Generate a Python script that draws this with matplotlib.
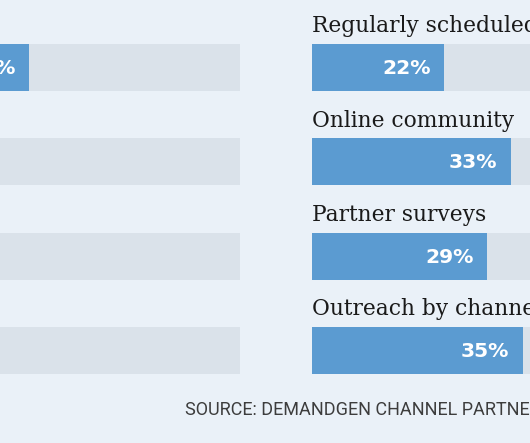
import matplotlib
matplotlib.use("Agg")
import matplotlib.pyplot as plt

# Data
left_values = [65, 45, 40, 35]          # left panel (labels off-canvas)
left_labels = ["65%", "", "", ""]       # only the first value label reaches the canvas
right_categories = ["Regularly scheduled meetings", "Online community",
                    "Partner surveys", "Outreach by channel managers"]
right_values = [22, 33, 29, 35]
right_labels = [f"{v}%" for v in right_values]
source_text = "SOURCE: DEMANDGEN CHANNEL PARTNER SURVEY"

BG = "#EAF1F8"
TRACK = "#DAE2EA"
BLUE = "#5B9BD1"

W, H = 530, 443
fig = plt.figure(figsize=(W / 100, H / 100), dpi=100, facecolor=BG)

scale_px = 602  # pixel width of 0..100 %
ax_bottom = (H - 397.75) / H
ax_height = 377.5 / H


def panel(x0_px, values, labels, cats=None):
    ax = fig.add_axes([x0_px / W, ax_bottom, scale_px / W, ax_height])
    ax.set_facecolor("none")
    ax.set_xlim(0, 100)
    ax.set_ylim(3.5, -0.5)
    ax.axis("off")
    ys = list(range(len(values)))
    ax.barh(ys, [100] * len(values), height=0.497, color=TRACK, left=0)
    ax.barh(ys, values, height=0.497, color=BLUE, left=0)
    for y, v, lab in zip(ys, values, labels):
        if lab:
            ax.text(v - 2.2, y + 0.01, lab, ha="right", va="center",
                    color="white", fontsize=14.6, fontweight="bold",
                    family="DejaVu Sans")
    if cats:
        for y, c in zip(ys, cats):
            ax.text(0, y - 0.374, c, ha="left", va="baseline",
                    color="#1a1a1a", fontsize=15.7, family="DejaVu Serif")
    return ax


panel(240 - scale_px, left_values, left_labels)
panel(312, right_values, right_labels, right_categories)

fig.text(185 / W, (H - 415) / H, source_text, ha="left", va="baseline",
         fontsize=13, color="#3d3d3d", family="Roboto")

fig.savefig("out.png", dpi=100, facecolor=BG)
